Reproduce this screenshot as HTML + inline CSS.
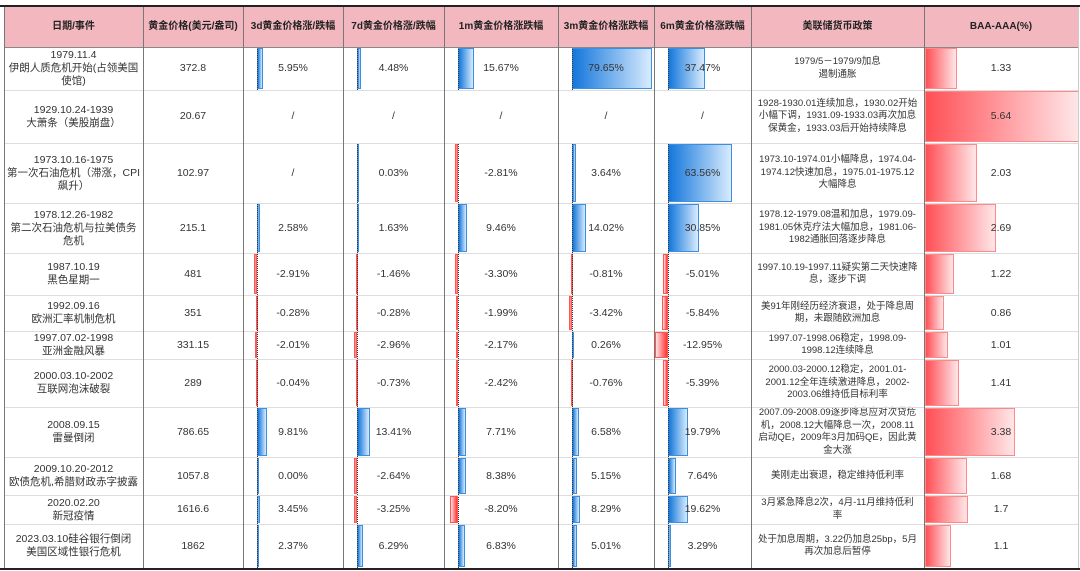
<!DOCTYPE html>
<html><head><meta charset="utf-8">
<style>
body{margin:0;background:#fff;width:1080px;height:571px;overflow:hidden;font-family:"Liberation Sans","Noto Sans CJK SC",sans-serif;}
#t{position:absolute;left:0;top:0;width:1080px;height:571px;}
.c{position:absolute;display:flex;align-items:center;justify-content:center;text-align:center;font-size:10.5px;color:#333;line-height:13px;box-sizing:border-box;padding:0 3px;}
.h{font-weight:bold;font-size:10px;color:#222;}
.bar{position:absolute;box-sizing:border-box;}
.ln{position:absolute;}
</style></head><body>
<div id="t"></div>
<script>
const headers=["日期/事件","黄金价格(美元/盎司)","3d黄金价格涨/跌幅","7d黄金价格涨/跌幅","1m黄金价格涨跌幅","3m黄金价格涨跌幅","6m黄金价格涨跌幅","美联储货币政策","BAA-AAA(%)"];
const events=["1979.11.4<br>伊朗人质危机开始(占领美国使馆)","1929.10.24-1939<br>大萧条（美股崩盘）","1973.10.16-1975<br>第一次石油危机（滞涨，CPI飙升）","1978.12.26-1982<br>第二次石油危机与拉美债务危机","1987.10.19<br>黑色星期一","1992.09.16<br>欧洲汇率机制危机","1997.07.02-1998<br>亚洲金融风暴","2000.03.10-2002<br>互联网泡沫破裂","2008.09.15<br>雷曼倒闭","2009.10.20-2012<br>欧债危机,希腊财政赤字披露","2020.02.20<br>新冠疫情","2023.03.10硅谷银行倒闭<br>美国区域性银行危机"];
const prices=["372.8","20.67","102.97","215.1","481","351","331.15","289","786.65","1057.8","1616.6","1862"];
const d3=[5.95,null,null,2.58,-2.91,-0.28,-2.01,-0.04,9.81,0.00,3.45,2.37];
const d7=[4.48,null,0.03,1.63,-1.46,-0.28,-2.96,-0.73,13.41,-2.64,-3.25,6.29];
const m1=[15.67,null,-2.81,9.46,-3.30,-1.99,-2.17,-2.42,7.71,8.38,-8.20,6.83];
const m3=[79.65,null,3.64,14.02,-0.81,-3.42,0.26,-0.76,6.58,5.15,8.29,5.01];
const m6=[37.47,null,63.56,30.85,-5.01,-5.84,-12.95,-5.39,19.79,7.64,19.62,3.29];
const policy=["1979/5－1979/9加息<br>遏制通胀","1928-1930.01连续加息，1930.02开始小幅下调，1931.09-1933.03再次加息保黄金，1933.03后开始持续降息","1973.10-1974.01小幅降息，1974.04-1974.12快速加息，1975.01-1975.12大幅降息","1978.12-1979.08温和加息，1979.09-1981.05休克疗法大幅加息，1981.06-1982通胀回落逐步降息","1997.10.19-1997.11疑实第二天快速降息，逐步下调","美91年刚经历经济衰退，处于降息周期，未跟随欧洲加息","1997.07-1998.06稳定，1998.09-1998.12连续降息","2000.03-2000.12稳定，2001.01-2001.12全年连续激进降息，2002-2003.06维持低目标利率","2007.09-2008.09逐步降息应对次贷危机，2008.12大幅降息一次，2008.11启动QE，2009年3月加码QE，因此黄金大涨","美刚走出衰退，稳定维持低利率","3月紧急降息2次，4月-11月维持低利率","处于加息周期，3.22仍加息25bp，5月再次加息后暂停"];
const baa=[1.33,5.64,2.03,2.69,1.22,0.86,1.01,1.41,3.38,1.68,1.7,1.1];

const colX=[4,143,243,343,444,558,654,751,924,1078];
const rowY=[5,47,90,143,203,253,295,331,359,407,457,495,524,568];
const T=document.getElementById('t');
function box(x,y,w,h,cls,html){const d=document.createElement('div');d.className=cls;d.style.left=x+'px';d.style.top=y+'px';d.style.width=w+'px';d.style.height=h+'px';if(html!==undefined)d.innerHTML=html;T.appendChild(d);return d;}
// header bg
const hb=box(colX[0],rowY[0],colX[9]-colX[0],rowY[1]-rowY[0],'ln');hb.style.background='#f3b7bf';


headers.forEach((h,i)=>{const d=box(colX[i],rowY[0],colX[i+1]-colX[i],rowY[1]-rowY[0],'c h',h);

});
const pctCols=[d3,d7,m1,m3,m6];
const pxPerPct=1.0, axisOff=14;
for(let r=0;r<12;r++){
  const y=rowY[r+1],h=rowY[r+2]-rowY[r+1];
  let d=box(colX[0],y,colX[1]-colX[0],h,'c',events[r]);
  
  
  d=box(colX[1],y,colX[2]-colX[1],h,'c',prices[r]);
  
  
  pctCols.forEach((arr,k)=>{
    const x0=colX[2+k],w=colX[3+k]-x0,v=arr[r];
    if(v!==null){
      const ax=x0+axisOff;
      const len=Math.max(1.5,Math.min(Math.abs(v)*pxPerPct,w-axisOff));
      const b=box(v>=0?ax:ax-len,y+1,len,h-2,'bar');
      if(v>=0){b.style.background='linear-gradient(90deg,#1477dc,#d8ebfd)';b.style.border='1px solid #3a8fe3';}
      else{b.style.background='linear-gradient(270deg,#f33,#ffe3e3)';b.style.border='1px solid #f55';}
      
      
      const a=box(ax,y,0,h,'ln');a.style.borderLeft='1px dotted #333';
      
      
    }
    const c=box(x0,y,w,h,'c',v===null?'/':v.toFixed(2)+'%');
    
    
  });
  d=box(colX[7],y,colX[8]-colX[7],h,'c',policy[r]);d.style.fontSize='9.5px';d.style.lineHeight='12.5px';d.style.padding='0 6px';
  
  
  const bw=Math.min(colX[9]-colX[8],Math.max(2,baa[r]*28.3-5.6));
  const bb=box(colX[8]+1,y+1,bw,h-2,'bar');bb.style.background='linear-gradient(90deg,#ff4f55,#ffe6e8)';bb.style.border='1px solid #f88';
  
  
  d=box(colX[8],y,colX[9]-colX[8],h,'c',String(baa[r]));
  
  
}
// grid lines
for(let r=1;r<rowY.length-1;r++){const l=box(colX[0],rowY[r],colX[9]-colX[0],0,'ln');l.style.borderTop='1px solid '+(r===1?'#888':'#ddd');

}
colX.forEach((x,i)=>{const l=box(x,rowY[0],0,rowY[13]-rowY[0],'ln');l.style.borderLeft='1px solid '+(i===9?'#ccc':'#777');

});
[rowY[0],rowY[13]].forEach(y=>{const l=box(0,y,1080,0,'ln');l.style.borderTop='2px solid #222';

});
</script>
</body></html>
